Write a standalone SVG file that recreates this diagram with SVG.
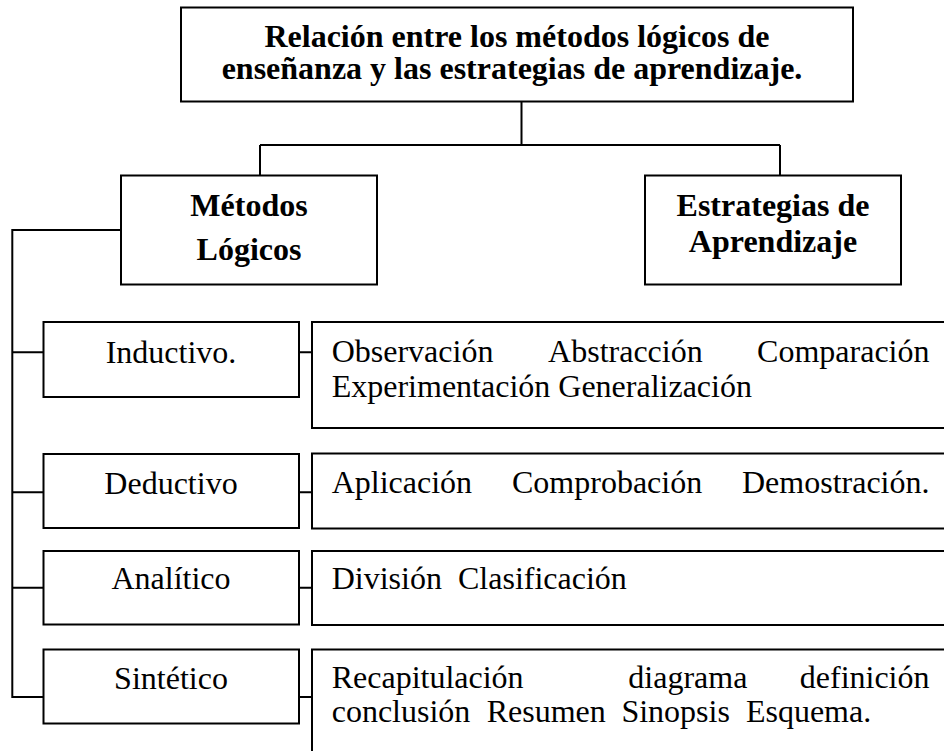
<svg xmlns="http://www.w3.org/2000/svg" width="944" height="751" viewBox="0 0 944 751">
<style>
rect{fill:#fff;stroke:#000;stroke-width:2}
.c path{fill:none;stroke:#000;stroke-width:2}
text{font-family:"Liberation Serif","Times New Roman",serif;font-size:32px;fill:#000}
.b{font-weight:bold;text-anchor:middle}
.m{text-anchor:middle}
.e{text-anchor:end}
</style>
<rect x="0" y="0" width="944" height="751" style="stroke:none"/>
<g id="connectors" class="c">
<path d="M521.5 101.5V145M260 145H780M260 145V175.5M780 145V175.5"/>
<path d="M121 230H12.3V697H43.5M12.3 352.3H43.5M12.3 492.3H43.5M12.3 587.7H43.5"/>
<path d="M299 352.3H312M299 492.3H312M299 587.7H312M299 697H312"/>
</g>
<g id="title">
<rect x="181" y="7.5" width="672" height="94"/>
<text class="b" x="517" y="47">Relación entre los métodos lógicos de</text>
<text class="b" x="512" y="79">enseñanza y las estrategias de aprendizaje.</text>
</g>
<g id="metodos">
<rect x="121" y="175.5" width="256" height="109"/>
<text class="b" x="249" y="216">Métodos</text>
<text class="b" x="249" y="260">Lógicos</text>
</g>
<g id="estrategias">
<rect x="645" y="175.5" width="256" height="109"/>
<text class="b" x="773" y="216">Estrategias de</text>
<text class="b" x="773" y="252">Aprendizaje</text>
</g>
<g id="inductivo">
<rect x="43.5" y="322" width="255.5" height="75"/>
<text class="m" x="171" y="362.5">Inductivo.</text>
</g>
<g id="inductivo-estrategias">
<rect x="312" y="322" width="650" height="106"/>
<text x="331.7" y="361.5">Observación</text>
<text x="548.1" y="361.5">Abstracción</text>
<text class="e" x="929.5" y="361.5">Comparación</text>
<text x="331.7" y="397.3">Experimentación Generalización</text>
</g>
<g id="deductivo">
<rect x="43.5" y="454" width="255.5" height="74"/>
<text class="m" x="171" y="493.5">Deductivo</text>
</g>
<g id="deductivo-estrategias">
<rect x="312" y="453.5" width="650" height="75"/>
<text x="331.7" y="493.3">Aplicación</text>
<text x="512" y="493.3">Comprobación</text>
<text class="e" x="929.5" y="493.3">Demostración.</text>
</g>
<g id="analitico">
<rect x="43.5" y="551" width="255.5" height="73.5"/>
<text class="m" x="171" y="589">Analítico</text>
</g>
<g id="analitico-estrategias">
<rect x="312" y="551" width="650" height="74"/>
<text x="331.7" y="589">División</text>
<text x="458" y="589">Clasificación</text>
</g>
<g id="sintetico">
<rect x="43.5" y="649.5" width="255.5" height="74"/>
<text class="m" x="171" y="688.5">Sintético</text>
</g>
<g id="sintetico-estrategias">
<rect x="312" y="649.5" width="650" height="130"/>
<text x="331.7" y="688.3">Recapitulación</text>
<text x="628.3" y="688.3">diagrama</text>
<text class="e" x="929.5" y="688.3">definición</text>
<text x="331.7" y="722">conclusión</text>
<text x="486.7" y="722">Resumen</text>
<text x="621.4" y="722">Sinopsis</text>
<text x="745.9" y="722">Esquema.</text>
</g>
</svg>
